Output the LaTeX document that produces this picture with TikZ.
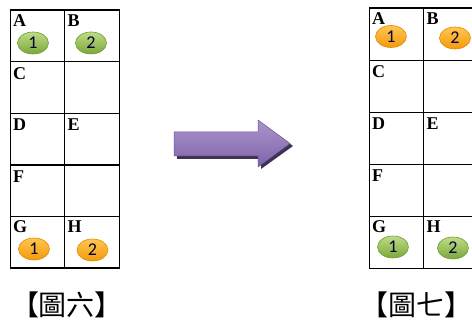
\documentclass[tikz,border=0pt]{standalone}
\usepackage{fontspec}
\setmainfont{Liberation Serif}
\newfontfamily\digitfont{Carlito}
\newfontfamily\cjk{Noto Sans CJK TC}
\usetikzlibrary{calc,shapes.geometric}
\definecolor{grnA}{HTML}{BEDC86}
\definecolor{grnB}{HTML}{7BA83A}
\definecolor{grnE}{HTML}{6E9A32}
\definecolor{orA}{HTML}{FFC650}
\definecolor{orB}{HTML}{F39A0C}
\definecolor{orE}{HTML}{E08A00}
\definecolor{purA}{HTML}{AA94CC}
\definecolor{purB}{HTML}{7F64A8}
\definecolor{purE}{HTML}{6B5296}
\definecolor{purS}{HTML}{3F3151}
\begin{document}
\begin{tikzpicture}[x=1pt,y=-1pt,
  cell/.style={draw, line width=1.3pt, minimum width=54.5pt, minimum height=51.6pt, inner sep=0pt, anchor=north west},
  lett/.style={font=\bfseries\fontsize{18}{18}\selectfont, inner sep=0pt, anchor=base west},
  ball/.style={ellipse, minimum width=31pt, minimum height=22pt, inner sep=0pt, draw=#1E, line width=0.6pt, top color=#1A, bottom color=#1B, font=\digitfont\fontsize{18}{18}\selectfont, text=black!80!blue},
  captext/.style={font=\cjk\fontsize{28}{28}\selectfont, inner sep=0pt}
]
\useasboundingbox (0,0) rectangle (472,320);
% left grid
\foreach \r/\y in {0/9.5,1/61.1,2/112.7,3/164.3,4/215.9}{
  \node[cell] (L\r a) at (9.5,\y) {};
  \node[cell] (L\r b) at (64,\y) {};
}
% right grid
\foreach \r/\y in {0/7.5,1/59.6,2/111.7,3/163.8,4/215.9}{
  \node[cell, minimum height=52.1pt] (R\r a) at (368.5,\y) {};
  \node[cell, minimum height=52.1pt] (R\r b) at (423,\y) {};
}
% letters
\foreach \g in {L,R}{
  \node[lett] at ($(\g0a.north west)+(3.5,17)$) {A};
  \node[lett] at ($(\g0b.north west)+(3.5,17)$) {B};
  \node[lett] at ($(\g1a.north west)+(3.5,18)$) {C};
  \node[lett] at ($(\g2a.north west)+(3.5,18)$) {D};
  \node[lett] at ($(\g2b.north west)+(3.5,18)$) {E};
  \node[lett] at ($(\g3a.north west)+(3.5,18)$) {F};
  \node[lett] at ($(\g4a.north west)+(3.5,17)$) {G};
  \node[lett] at ($(\g4b.north west)+(3.5,17)$) {H};
}
% balls
\node[ball=grn] (la1) at (33,43) {1};
\node[ball=grn] (lb2) at (91,43) {2};
\node[ball=or] (lg1) at (34,249) {1};
\node[ball=or] (lh2) at (92.5,250) {2};
\node[ball=or] (ra1) at (391,36.5) {1};
\node[ball=or] (rb2) at (455,38) {2};
\node[ball=grn] (rg1) at (393,247) {1};
\node[ball=grn] (rh2) at (453,248) {2};
% arrow
\fill[purS] (177,135) -- (261,135) -- (261,123) -- (293,146) -- (261,169) -- (261,159) -- (177,159) -- cycle;
\draw[purE, line width=0.5pt, top color=purA, bottom color=purB] (174,132) -- (258,132) -- (258,120) -- (290,143.5) -- (258,167) -- (258,156) -- (174,156) -- cycle;
% captions
\node[captext] (c6) at (67,305) {【圖六】};
\node[captext] (c7) at (416,305) {【圖七】};
\end{tikzpicture}
\end{document}
